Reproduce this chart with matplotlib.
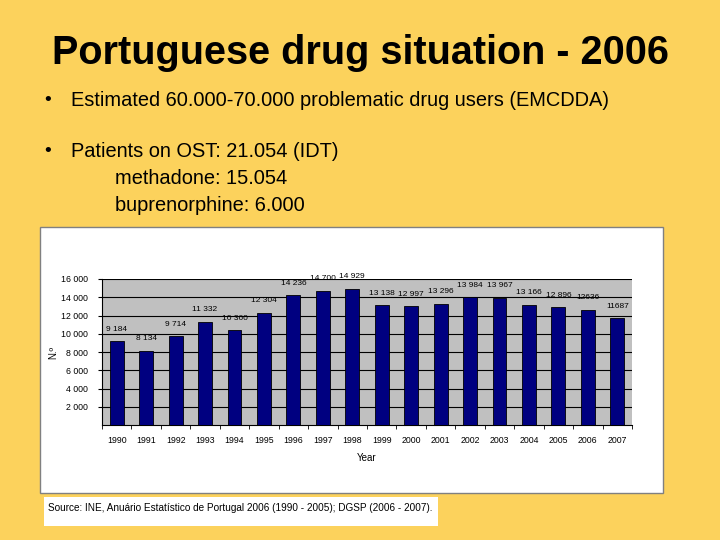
import matplotlib
matplotlib.use("Agg")
import matplotlib.pyplot as plt
from matplotlib import patches

plt.rcParams['font.family'] = ['Liberation Sans', 'DejaVu Sans']

years = [1990, 1991, 1992, 1993, 1994, 1995, 1996, 1997, 1998,
         1999, 2000, 2001, 2002, 2003, 2004, 2005, 2006, 2007]
patients = [9184, 8134, 9714, 11332, 10360, 12304, 14236, 14700, 14929,
            13138, 12997, 13296, 13984, 13967, 13166, 12896, 12636, 11687]
labels = ['9 184', '8 134', '9 714', '11 332', '10 360', '12 304', '14 236', '14 700', '14 929',
          '13 138', '12 997', '13 296', '13 984', '13 967', '13 166', '12 896', '12636', '11687']
yticks = [2000, 4000, 6000, 8000, 10000, 12000, 14000, 16000]

bg = '#fcd25c'
fig = plt.figure(figsize=(7.2, 5.4), dpi=100, facecolor=bg)

# slide text
fig.text(0.5, 0.902, 'Portuguese drug situation - 2006', ha='center', va='center',
         fontsize=28.5, fontweight='bold')
fig.text(0.062, 0.813, '•', fontsize=14, va='center')
fig.text(0.099, 0.813, 'Estimated 60.000-70.000 problematic drug users (EMCDDA)',
         fontsize=14.4, va='center')
fig.text(0.062, 0.720, '•', fontsize=14, va='center')
fig.text(0.099, 0.720, 'Patients on OST: 21.054 (IDT)', fontsize=14.4, va='center')
fig.text(0.160, 0.670, 'methadone: 15.054', fontsize=14.4, va='center')
fig.text(0.160, 0.620, 'buprenorphine: 6.000', fontsize=14.4, va='center')

# white chart box
fig.patches.append(patches.Rectangle((40/720, 1-493/540), 623/720, 266/540, zorder=0,
                                     transform=fig.transFigure, fc='white', ec='#808080', lw=1))
# source box
fig.patches.append(patches.Rectangle((44/720, 1-526/540), 394/720, 29/540, zorder=0,
                                     transform=fig.transFigure, fc='white', ec='none'))
fig.text(48/720, 1-508/540, 'Source: INE, Anuário Estatístico de Portugal 2006 (1990 - 2005); DGSP (2006 - 2007).',
         fontsize=7.2, va='center')

ax = fig.add_axes([102/720, 1-425/540, 530/720, 146/540])
ax.set_zorder(2)
ax.set_facecolor('#c0c0c0')
x = list(range(len(years)))
ax.bar(x, patients, width=0.47, color='#000080', edgecolor='black', linewidth=0.6, zorder=3)
for xi, v, lab in zip(x, patients, labels):
    ax.text(xi, v + 1300, lab, ha='center', va='center', fontsize=6)

ax.set_xlim(-0.5, len(years) - 0.5)
ax.set_ylim(0, 16000)
ax.set_yticks(yticks)
ax.set_yticklabels([f'{t:,}'.replace(',', ' ') for t in yticks], fontsize=6.3)
ax.yaxis.grid(True, color='black', linewidth=0.8, zorder=1)
ax.set_xticks(x)
ax.set_xticklabels([str(y) for y in years], fontsize=6.3)
ax.set_xticks([i - 0.5 for i in range(len(years) + 1)], minor=True)
ax.tick_params(axis='x', which='major', length=0, pad=8)
ax.tick_params(axis='x', which='minor', length=3, direction='out')
ax.tick_params(axis='y', length=3, direction='out', pad=7)
ax.spines['top'].set_visible(False)
ax.spines['right'].set_visible(False)
ax.set_ylabel('N.º', fontsize=7, labelpad=2)
ax.set_xlabel('Year', fontsize=7, labelpad=6)

fig.savefig('out.png', dpi=100, facecolor=bg)
